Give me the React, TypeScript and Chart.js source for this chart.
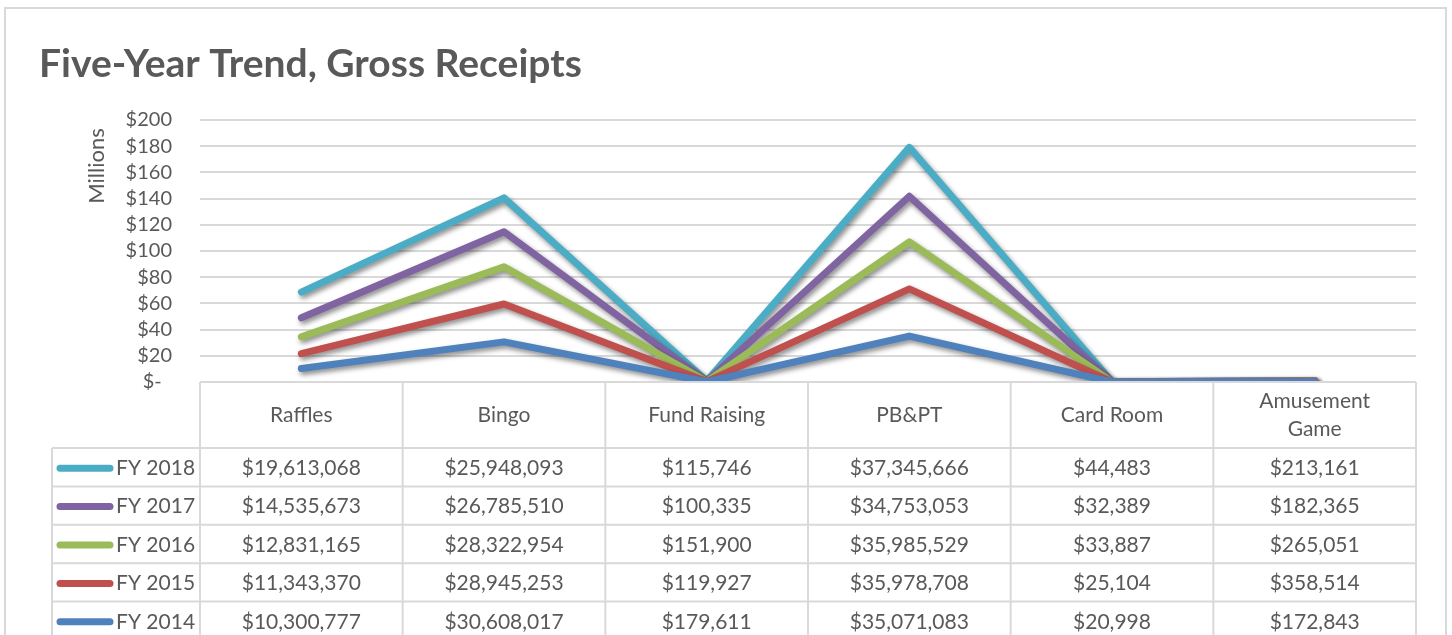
import React, { useEffect, useRef } from "react";
import { Chart, registerables } from "chart.js";

Chart.register(...registerables);

const categories = ["Raffles", "Bingo", "Fund Raising", "PB&PT", "Card Room", "Amusement Game"];
const headerLines = [["Raffles"], ["Bingo"], ["Fund Raising"], ["PB&PT"], ["Card Room"], ["Amusement", "Game"]];

const fy2014 = [10300777, 30608017, 179611, 35071083, 20998, 172843];
const fy2015 = [11343370, 28945253, 119927, 35978708, 25104, 358514];
const fy2016 = [12831165, 28322954, 151900, 35985529, 33887, 265051];
const fy2017 = [14535673, 26785510, 100335, 34753053, 32389, 182365];
const fy2018 = [19613068, 25948093, 115746, 37345666, 44483, 213161];

const seriesNames = ["FY 2014", "FY 2015", "FY 2016", "FY 2017", "FY 2018"];
const seriesValues = [fy2014, fy2015, fy2016, fy2017, fy2018];
const seriesColors = ["#4F81BD", "#C0504D", "#9BBB59", "#8064A2", "#4BACC6"];

const yTicks = [0, 20, 40, 60, 80, 100, 120, 140, 160, 180, 200];

const TEXT = "#595959";
const GRID = "#d9d9d9";
const FONT = "Lato, 'Open Sans', sans-serif";

const fmt = (v: number) => "$" + v.toLocaleString("en-US");

const overlayPlugin = {
  id: "overlay",
  beforeDatasetsDraw(chart: any) {
    const ctx = chart.ctx;
    ctx.save();
    ctx.shadowColor = "rgba(0,0,0,0.45)";
    ctx.shadowBlur = 5;
    ctx.shadowOffsetX = 2;
    ctx.shadowOffsetY = 3;
  },
  afterDatasetsDraw(chart: any) {
    chart.ctx.restore();
  },
  afterDraw(chart: any) {
    const ctx = chart.ctx;
    const x = chart.scales.x;
    const area = chart.chartArea;
    const n = categories.length;
    const band = (area.right - area.left) / n;
    const top = area.bottom;
    const headerH = 66;
    const rowH = 38.4;
    const legendLeft = 52;
    const bottom = 640;

    ctx.save();
    // outer frame
    ctx.strokeStyle = GRID;
    ctx.lineWidth = 2;
    ctx.strokeRect(5, 8, 1441, 660);

    // title
    ctx.fillStyle = TEXT;
    ctx.font = `bold 39px ${FONT}`;
    ctx.textAlign = "left";
    ctx.textBaseline = "alphabetic";
    ctx.fillText("Five-Year Trend, Gross Receipts", 39, 77);

    // Millions
    ctx.save();
    ctx.translate(97, 166);
    ctx.rotate(-Math.PI / 2);
    ctx.font = `22px ${FONT}`;
    ctx.textAlign = "center";
    ctx.textBaseline = "middle";
    ctx.fillText("Millions", 0, 0);
    ctx.restore();

    // table grid
    ctx.strokeStyle = GRID;
    ctx.lineWidth = 2;
    ctx.beginPath();
    ctx.moveTo(area.left, top);
    ctx.lineTo(area.right, top);
    for (let i = 0; i <= n; i++) {
      const gx = area.left + band * i;
      ctx.moveTo(gx, top);
      ctx.lineTo(gx, bottom);
    }
    for (let r = 0; r < seriesNames.length; r++) {
      const gy = top + headerH + rowH * r;
      ctx.moveTo(legendLeft, gy);
      ctx.lineTo(area.right, gy);
    }
    ctx.moveTo(legendLeft, top + headerH);
    ctx.lineTo(legendLeft, bottom);
    ctx.stroke();

    // header labels
    ctx.fillStyle = TEXT;
    ctx.font = `21px ${FONT}`;
    ctx.textAlign = "center";
    ctx.textBaseline = "middle";
    headerLines.forEach((lines, i) => {
      const cx = x.getPixelForValue(i);
      const cy = top + headerH / 2;
      const lh = 28;
      lines.forEach((t, k) => {
        ctx.fillText(t, cx, cy + (k - (lines.length - 1) / 2) * lh);
      });
    });

    // rows (FY 2018 first)
    for (let r = 0; r < seriesNames.length; r++) {
      const si = seriesNames.length - 1 - r;
      const cy = top + headerH + rowH * r + rowH / 2 + 1;
      ctx.strokeStyle = seriesColors[si];
      ctx.lineWidth = 7;
      ctx.lineCap = "round";
      ctx.beginPath();
      ctx.moveTo(60, cy);
      ctx.lineTo(110, cy);
      ctx.stroke();
      ctx.fillStyle = TEXT;
      ctx.textAlign = "left";
      ctx.fillText(seriesNames[si], 116, cy);
      ctx.textAlign = "center";
      seriesValues[si].forEach((v, i) => {
        ctx.fillText(fmt(v), x.getPixelForValue(i), cy);
      });
    }
    ctx.restore();
  },
};

export default function App() {
  const ref = useRef<HTMLCanvasElement | null>(null);
  useEffect(() => {
    document.body.style.margin = "0";
    const canvas = ref.current!;
    const chart = new Chart(canvas, {
      type: "line",
      data: {
        labels: categories,
        datasets: seriesNames.map((name, i) => ({
          label: name,
          data: seriesValues[i],
          borderColor: seriesColors[i],
          backgroundColor: seriesColors[i],
          borderWidth: 7,
          borderCapStyle: "round",
          borderJoinStyle: "round",
          pointRadius: 0,
          fill: false,
          tension: 0,
        })),
      },
      options: {
        responsive: false,
        animation: false,
        layout: { padding: { left: 0, right: 36, top: 120, bottom: 253 } },
        plugins: { legend: { display: false }, tooltip: { enabled: false }, title: { display: false } },
        scales: {
          x: { display: false, offset: true },
          y: {
            stacked: true,
            min: 0,
            max: 200e6,
            afterFit: (s: any) => { s.width = 200; },
            afterBuildTicks: (s: any) => { s.ticks = yTicks.map((v) => ({ value: v * 1e6 })); },
            border: { display: false },
            grid: { color: GRID, lineWidth: 2, drawTicks: false },
            ticks: {
              autoSkip: false,
              padding: 28,
              color: TEXT,
              font: { family: FONT, size: 20 },
              callback: (v: any) => (v === 0 ? "$-  " : "$" + Math.round(v / 1e6)),
            },
          },
        },
      },
      plugins: [overlayPlugin],
    } as any);
    return () => chart.destroy();
  }, []);
  return <canvas ref={ref} width={1452} height={635} style={{ display: "block" }} />;
}
